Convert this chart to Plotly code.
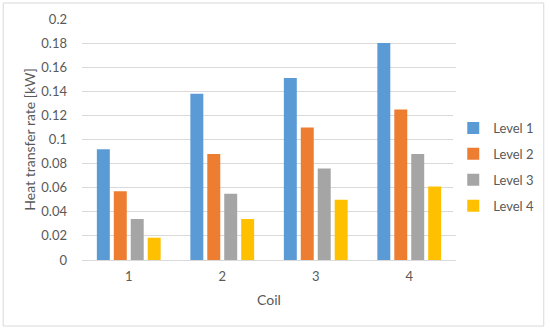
import plotly.graph_objects as go

coils = ["1", "2", "3", "4"]
level1 = [0.092, 0.138, 0.151, 0.180]
level2 = [0.057, 0.088, 0.110, 0.125]
level3 = [0.034, 0.055, 0.076, 0.088]
level4 = [0.0185, 0.034, 0.050, 0.061]
series_names = ["Level 1", "Level 2", "Level 3", "Level 4"]
colors = ["#5B9BD5", "#ED7D31", "#A5A5A5", "#FFC000"]

fig = go.Figure()
for i, (name, vals, col) in enumerate(zip(series_names, [level1, level2, level3, level4], colors)):
    fig.add_trace(go.Bar(x=coils, y=vals, name=name, marker=dict(color=col, line=dict(width=0)),
                         legendgroup=f"g{i}"))

font_col = "#595959"
fig.update_layout(
    width=550, height=331,
    margin=dict(l=82, r=93, t=19, b=71),
    paper_bgcolor="white", plot_bgcolor="white",
    barmode="group", bargap=0.275, bargroupgap=0.235,
    font=dict(family="Lato, Open Sans, sans-serif", size=13, color=font_col),
    showlegend=True,
    legend=dict(x=0.99, y=0.61, xanchor="left", yanchor="top",
                traceorder="grouped", tracegroupgap=6,
                font=dict(size=13, color=font_col), itemwidth=30),
    xaxis=dict(title=dict(text="Coil", font=dict(size=14, color=font_col), standoff=12),
               showgrid=False, showline=False, ticks="", tickfont=dict(size=13),
               ticklabelstandoff=7),
    yaxis=dict(title=dict(text="Heat transfer rate [kW]", font=dict(size=14, color=font_col), standoff=2),
               range=[0, 0.2], dtick=0.02, tickformat="~g", tickfont=dict(size=13),
               gridcolor="#D9D9D9", gridwidth=1, zeroline=True, zerolinecolor="#D9D9D9",
               zerolinewidth=1, showline=False, ticks="", ticklabelstandoff=14),
    shapes=[dict(type="rect", xref="paper", yref="paper",
                 x0=-0.2107, x1=1.2347, y0=-0.2739, y1=1.0664,
                 line=dict(color="#D9D9D9", width=1), fillcolor="rgba(0,0,0,0)")],
)

fig.write_html("out.html", post_script="document.body.style.margin='0';",
               config={"displayModeBar": False})
